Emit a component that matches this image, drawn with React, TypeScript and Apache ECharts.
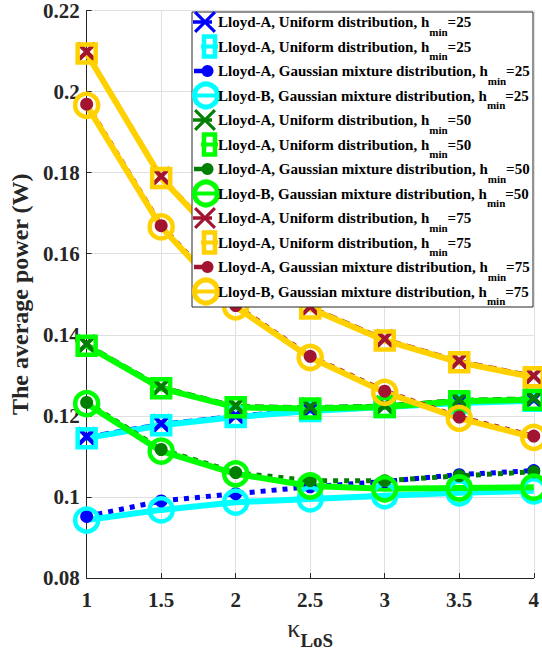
import React, { useEffect, useRef } from 'react';
import * as echarts from 'echarts';

const FONT = "'Liberation Serif', 'Times New Roman', serif";

// x values (kappa_LoS)
const kappa = [1, 1.5, 2, 2.5, 3, 3.5, 4];

// h_min = 25
const uniA25X = [0.1149, 0.1181, 0.1201, 0.1216, 0.1226, 0.1236, 0.1241];
const uniA25S = [0.1145, 0.1177, 0.1197, 0.1212, 0.1222, 0.1232, 0.1237];
const gauA25 = [0.0952, 0.0990, 0.1008, 0.1025, 0.1038, 0.1055, 0.1065];
const gauB25 = [0.0943, 0.0968, 0.0987, 0.0995, 0.1003, 0.1010, 0.1015];

// h_min = 50
const uniA50X = [0.1377, 0.1272, 0.1225, 0.1222, 0.1226, 0.1240, 0.1244];
const uniA50S = [0.1373, 0.1268, 0.1221, 0.1218, 0.1222, 0.1236, 0.1240];
const gauA50 = [0.1233, 0.1117, 0.1060, 0.1040, 0.1040, 0.1052, 0.1062];
const gauB50 = [0.1230, 0.1113, 0.1057, 0.1027, 0.1020, 0.1022, 0.1024];

// h_min = 75
const uniA75X = [0.2098, 0.1791, 0.1596, 0.1469, 0.1390, 0.1336, 0.1299];
const uniA75S = [0.2094, 0.1787, 0.1592, 0.1465, 0.1386, 0.1332, 0.1295];
const gauA75 = [0.1969, 0.1669, 0.1472, 0.1347, 0.1261, 0.1197, 0.1150];
const gauB75 = [0.1966, 0.1666, 0.1469, 0.1344, 0.1258, 0.1194, 0.1147];

const yTicks = { min: 0.08, max: 0.22, interval: 0.02 };
const xTicks = { min: 1, max: 4, interval: 0.5 };

const legendText = [
  ['Lloyd-A, Uniform distribution, h', '25'],
  ['Lloyd-A, Uniform distribution, h', '25'],
  ['Lloyd-A, Gaussian mixture distribution, h', '25'],
  ['Lloyd-B, Gaussian mixture distribution, h', '25'],
  ['Lloyd-A, Uniform distribution, h', '50'],
  ['Lloyd-A, Uniform distribution, h', '50'],
  ['Lloyd-A, Gaussian mixture distribution, h', '50'],
  ['Lloyd-B, Gaussian mixture distribution, h', '50'],
  ['Lloyd-A, Uniform distribution, h', '75'],
  ['Lloyd-A, Uniform distribution, h', '75'],
  ['Lloyd-A, Gaussian mixture distribution, h', '75'],
  ['Lloyd-B, Gaussian mixture distribution, h', '75'],
];

const BLUE = '#0000ff';
const CYAN = '#00ffff';
const DGREEN = '#007f00';
const LIME = '#00ff00';
const DRED = '#a2142f';
const GOLD = '#ffd100';

const CROSS =
  'path://M0,1.5 L1.5,0 L5,3.5 L8.5,0 L10,1.5 L6.5,5 L10,8.5 L8.5,10 L5,6.5 L1.5,10 L0,8.5 L3.5,5 Z';

type Kind = 'cross' | 'square' | 'dot' | 'circle';

const seriesDefs: { values: number[]; kind: Kind; color: string }[] = [
  { values: uniA25X, kind: 'cross', color: BLUE },
  { values: uniA25S, kind: 'square', color: CYAN },
  { values: gauA25, kind: 'dot', color: BLUE },
  { values: gauB25, kind: 'circle', color: CYAN },
  { values: uniA50X, kind: 'cross', color: DGREEN },
  { values: uniA50S, kind: 'square', color: LIME },
  { values: gauA50, kind: 'dot', color: DGREEN },
  { values: gauB50, kind: 'circle', color: LIME },
  { values: uniA75X, kind: 'cross', color: DRED },
  { values: uniA75S, kind: 'square', color: GOLD },
  { values: gauA75, kind: 'dot', color: DRED },
  { values: gauB75, kind: 'circle', color: GOLD },
];

function makeSeries(idx: number) {
  const { values, kind, color } = seriesDefs[idx];
  const [t, h] = legendText[idx];
  const base: any = {
    type: 'line',
    name: `${t}min=${h}`,
    data: kappa.map((k, i) => [k, values[i]]),
    silent: true,
    animation: false,
    showAllSymbol: true,
  };
  if (kind === 'cross')
    return { ...base, symbol: CROSS, symbolSize: 20, itemStyle: { color }, lineStyle: { color, width: 3.5, type: [9, 5] } };
  if (kind === 'square')
    return {
      ...base,
      symbol: 'rect',
      symbolSize: 18,
      itemStyle: { color: 'rgba(0,0,0,0)', borderColor: color, borderWidth: 4.5 },
      lineStyle: { color, width: 6 },
    };
  if (kind === 'dot')
    return { ...base, symbol: 'circle', symbolSize: 13, itemStyle: { color }, lineStyle: { color, width: 5, type: [5, 6] } };
  return {
    ...base,
    symbol: 'circle',
    symbolSize: 23,
    itemStyle: { color: 'rgba(0,0,0,0)', borderColor: color, borderWidth: 4.5 },
    lineStyle: { color, width: 6 },
  };
}

function legendGraphics() {
  const els: any[] = [];
  const box = { x: 192, y: 12, w: 341, h: 295 };
  els.push({
    type: 'rect',
    shape: { x: box.x, y: box.y, width: box.w, height: box.h },
    style: { fill: '#fff', stroke: '#262626', lineWidth: 1 },
    z: 100,
  });
  seriesDefs.forEach((d, i) => {
    const y = 22 + 24.5 * i;
    const c = d.color;
    if (d.kind === 'cross') {
      els.push({ type: 'line', shape: { x1: 193, y1: y, x2: 212, y2: y }, style: { stroke: c, lineWidth: 3.5 }, z: 101 });
      const s = 11;
      const a = 2.2;
      const cx = 205;
      const pts = [
        [cx - s, y - s + a], [cx - s + a, y - s], [cx, y - a], [cx + s - a, y - s], [cx + s, y - s + a], [cx + a, y],
        [cx + s, y + s - a], [cx + s - a, y + s], [cx, y + a], [cx - s + a, y + s], [cx - s, y + s - a], [cx - a, y],
      ];
      els.push({ type: 'polygon', shape: { points: pts }, style: { fill: c }, z: 102 });
    } else if (d.kind === 'square') {
      els.push({ type: 'line', shape: { x1: 201, y1: y, x2: 218, y2: y }, style: { stroke: c, lineWidth: 4 }, z: 101 });
      els.push({
        type: 'rect',
        shape: { x: 204, y: y - 10, width: 11, height: 20 },
        style: { fill: 'none', stroke: c, lineWidth: 4.5 },
        z: 102,
      });
    } else if (d.kind === 'dot') {
      els.push({ type: 'line', shape: { x1: 194, y1: y, x2: 207, y2: y }, style: { stroke: c, lineWidth: 4.5 }, z: 101 });
      els.push({ type: 'circle', shape: { cx: 207.5, cy: y, r: 6 }, style: { fill: c }, z: 102 });
    } else {
      els.push({ type: 'line', shape: { x1: 195, y1: y, x2: 217, y2: y }, style: { stroke: c, lineWidth: 4 }, z: 101 });
      els.push({ type: 'circle', shape: { cx: 206, cy: y, r: 11.5 }, style: { fill: 'none', stroke: c, lineWidth: 5 }, z: 102 });
    }
    const [t, h] = legendText[i];
    els.push({
      type: 'text',
      x: 218,
      y,
      z: 103,
      style: {
        text: `{t|${t}}{s|min}{t|=${h}}`,
        align: 'left',
        verticalAlign: 'middle',
        textAlign: 'left',
        textVerticalAlign: 'middle',
        fill: '#000',
        rich: {
          t: { fontFamily: FONT, fontSize: 15, fontWeight: 'bold', lineHeight: 30, fill: '#000', color: '#000' },
          s: { fontFamily: FONT, fontSize: 11, fontWeight: 'bold', lineHeight: 14, verticalAlign: 'bottom', fill: '#000', color: '#000' },
        },
      },
    });
  });
  return els;
}

export default function App() {
  const ref = useRef<HTMLDivElement>(null);
  useEffect(() => {
    if (!ref.current) return;
    const chart = echarts.init(ref.current, undefined, { renderer: 'svg' });
    const axisLabel = { fontFamily: FONT, fontSize: 21, fontWeight: 'bold', color: '#262626' };
    chart.setOption({
      animation: false,
      backgroundColor: '#fff',
      grid: { left: 81, right: 6, top: 9, bottom: 78, containLabel: false },
      xAxis: {
        type: 'value',
        min: xTicks.min,
        max: xTicks.max,
        interval: xTicks.interval,
        axisLine: { show: true, onZero: false, lineStyle: { color: '#262626', width: 1 } },
        axisTick: { show: true, inside: true, length: 5, lineStyle: { color: '#262626' } },
        splitLine: { show: true, lineStyle: { color: '#e0e0e0', width: 1 } },
        axisLabel: { ...axisLabel, margin: 11, formatter: (v: number) => String(Number(v.toFixed(1))) },
        name: '{k|κ}{s|LoS}',
        nameLocation: 'middle',
        nameGap: 28,
        nameTextStyle: {
          rich: {
            k: { fontFamily: FONT, fontSize: 26, color: '#262626', lineHeight: 44 },
            s: { fontFamily: FONT, fontSize: 19, fontWeight: 'bold', color: '#262626', lineHeight: 18, verticalAlign: 'bottom' },
          },
        },
      },
      yAxis: {
        type: 'value',
        min: yTicks.min,
        max: yTicks.max,
        interval: yTicks.interval,
        axisLine: { show: true, onZero: false, lineStyle: { color: '#262626', width: 1 } },
        axisTick: { show: true, inside: true, length: 5, lineStyle: { color: '#262626' } },
        splitLine: { show: true, lineStyle: { color: '#e0e0e0', width: 1 } },
        axisLabel: { ...axisLabel, margin: 7, formatter: (v: number) => String(Number(v.toFixed(2))) },
        name: 'The average power (W)',
        nameLocation: 'middle',
        nameRotate: 90,
        nameGap: 48,
        nameTextStyle: { fontFamily: FONT, fontSize: 24, fontWeight: 'bold', color: '#262626' },
      },
      series: seriesDefs.map((_, i) => makeSeries(i)),
      graphic: legendGraphics(),
    });
    return () => chart.dispose();
  }, []);
  return <div ref={ref} style={{ position: 'fixed', left: 0, top: 0, width: 542, height: 656 }} />;
}
